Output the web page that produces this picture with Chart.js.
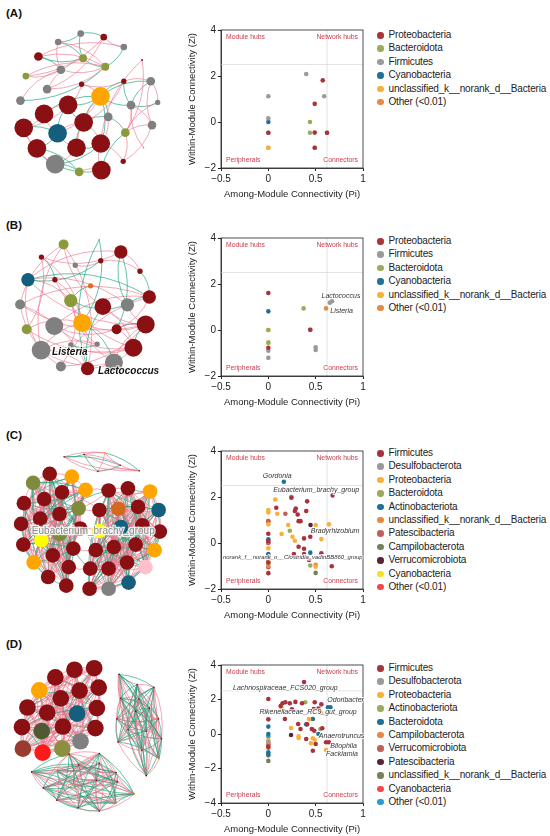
<!DOCTYPE html>
<html>
<head>
<meta charset="utf-8">
<script src="https://cdn.jsdelivr.net/npm/chart.js@4.4.1/dist/chart.umd.min.js"></script>
<style>
  body { margin: 0; background: #fff; font-family: "Liberation Sans", Arial, sans-serif; }
  #page { position: relative; width: 550px; height: 836px; overflow: hidden; }
  canvas { position: absolute; }
  .tag { position: absolute; left: 6px; font-weight: bold; font-size: 11.5px; color: #111; line-height: 14px; }
  .legend { position: absolute; left: 377px; font-size: 10px; color: #222; letter-spacing: -0.17px; }
  .legend div { height: 13.4px; line-height: 13.4px; white-space: nowrap; }
  .legend span { display: inline-block; width: 6.5px; height: 6.5px; border-radius: 50%; margin-right: 5px; vertical-align: -0.5px; }
</style>
</head>
<body>
<div id="page"></div>
<script>
// ---------- scatter data (Pi, Zi) per taxon ----------
const taxaA = ['Proteobacteria', 'Bacteroidota', 'Firmicutes', 'Cyanobacteria', 'unclassified_k__norank_d__Bacteria', 'Other (<0.01)'];
const colorsA = ['#a8323e', '#9eaa5a', '#9a9a9a', '#1f7295', '#f7b03c', '#e48a45'];
const ptsA = [
  [[0.575, 1.81], [0.49, 0.79], [0.49, -0.46], [0, -0.47], [0.62, -0.47], [0.49, -1.12]],
  [[0.44, 0], [0.44, -0.47], [0.49, -1.12]],
  [[0.40, 2.09], [0, 1.12], [0.59, 1.12], [0, 0.16], [0, -0.47], [0.62, -0.47]],
  [[0, 0]],
  [[0, -1.12]],
  [[0, -1.12]]
];

const taxaB = ['Proteobacteria', 'Firmicutes', 'Bacteroidota', 'Cyanobacteria', 'unclassified_k__norank_d__Bacteria', 'Other (<0.01)'];
const colorsB = ['#a8323e', '#9a9a9a', '#9eaa5a', '#1f7295', '#f7b03c', '#e48a45'];
const ptsB = [
  [[0, 1.61], [0, -0.77], [0.443, 0.01]],
  [[0, -0.9], [0, -1.21], [0.5, -0.75], [0.5, -0.87], [0.65, 1.19], [0.673, 1.25], [0.443, 0.01]],
  [[0.373, 0.94], [0, 0], [0, -0.55]],
  [[0, 0.81]],
  [[0, 0], [0, -0.55]],
  [[0.61, 0.94]]
];
const labelsB = [['Lactococcus', 0.767, 1.48], ['Listeria', 0.774, 0.81]];

const taxaC = ['Firmicutes', 'Desulfobacterota', 'Proteobacteria', 'Bacteroidota', 'Actinobacteriota', 'unclassified_k__norank_d__Bacteria',
  'Patescibacteria', 'Campilobacterota', 'Verrucomicrobiota', 'Cyanobacteria', 'Other (<0.01)'];
const colorsC = ['#a8323e', '#9a9a9a', '#f7b03c', '#9eaa5a', '#1f7295', '#e48a45', '#c0605c', '#75805e', '#5a2438', '#f8e020', '#f04a4a'];
const ptsC = [
  [[0.244, 1.97], [0.68, 2.07], [0.084, 1.53], [0.41, 1.81], [0.29, 1.50], [0.28, 1.39], [0.40, 1.39], [0.31, 1.24], [0.32, 0.95],
   [0.34, 0.95], [0.377, 0.20], [0.443, 0.27], [0.32, -0.16], [0.377, -0.25], [0.27, -0.48], [0.377, -0.48], [0.56, -0.45],
   [0.67, -1.01], [0.43, -0.74], [0, 0.40], [0, 0.09], [0, -0.65], [0, -1.31], [0, -0.85]],
  [[0, -0.7]],
  [[0.073, 1.89], [0.094, 1.27], [0.5, 0.78], [0.64, 0.81], [0.21, 0.78], [0.14, 0.39], [0.255, 0.27], [0.28, 0.10], [0.56, 0.17],
   [0.5, -1.03], [0, 1.43], [0, 1.33], [0, 0.81], [0, -0.23], [0, -0.75]],
  [[0.244, 2.01], [0.227, 0.53], [0.443, -0.98], [0, -0.9]],
  [[0.164, 2.66], [0.443, -0.42], [0, 0.16], [0, -0.48], [0, -0.6]],
  [[0.5, -0.95], [0, -1.0]],
  [[0.18, 1.27], [0, 0.95], [0, 0.01]],
  [[0.5, -1.3]],
  [[0.446, 0.78], [0, -0.55]],
  [[0, -0.8]],
  [[0, 0.95], [0, 0.0], [0, -1.05]]
];
const labelsC = [['Gordonia', 0.094, 2.92], ['Eubacterium_brachy_group', 0.506, 2.30], ['Bradyrhizobium', 0.705, 0.53],
  ['norank_f__norank_o__Clostridia_vadinBB860_group', 0.258, -0.61]];

const taxaD = ['Firmicutes', 'Desulfobacterota', 'Proteobacteria', 'Actinobacteriota', 'Bacteroidota', 'Campilobacterota',
  'Verrucomicrobiota', 'Patescibacteria', 'unclassified_k__norank_d__Bacteria', 'Cyanobacteria', 'Other (<0.01)'];
const colorsD = ['#a8323e', '#9a9a9a', '#f7b03c', '#9eaa5a', '#1f7295', '#e48a45', '#c0605c', '#5a2438', '#75805e', '#f04a4a', '#2a9ad0'];
const ptsD = [
  [[0.377, 3.01], [0, 2.03], [0, 0.85], [0.13, 1.62], [0.15, 1.78], [0.18, 1.84], [0.227, 1.78], [0.286, 1.86], [0.25, 1.43],
   [0.356, 1.78], [0.49, 1.84], [0.48, 1.45], [0.53, 1.47], [0.56, 1.72], [0.175, 0.87], [0.315, 0.58], [0.41, 0.56], [0.34, 0.29],
   [0.46, 0.29], [0.485, 0.19], [0.57, 0.33], [0.40, -0.29], [0.5, -0.58], [0.61, -0.48], [0.64, -0.48], [0.47, -0.97], [0, -0.73]],
  [[0, -0.45]],
  [[0.144, 1.47], [0.56, 1.2], [0.43, 0.87], [0.24, 0.35], [0.32, -0.14], [0.32, -0.23], [0.47, -0.25], [0.49, -0.33], [0.45, -0.54],
   [0.61, -0.93], [0, -0.35]],
  [[0.39, 1.84], [0.55, 0.29]],
  [[0.63, 1.55], [0.656, 1.55], [0.47, 0.87], [0.40, 0.56], [0.53, 0], [0, 0.43], [0, -1.06], [0, -1.2], [0, 0]],
  [[0, -1.25], [0, -0.5]],
  [[0, -0.6]],
  [[0.24, -0.06]],
  [[0, -1.56]],
  [[0, -0.8]],
  [[0, -0.15]]
];
const labelsD = [['Lachnospiraceae_FCS020_group', 0.18, 2.69], ['Odoribacter', 0.816, 1.95], ['Rikenellaceae_RC9_gut_group', 0.42, 1.26],
  ['Anaerotruncus', 0.774, -0.14], ['Bilophila', 0.795, -0.68], ['Facklamia', 0.778, -1.16]];

// ---------- network data: [x, y, size, taxon] in layout units, edges [a, b, positive?] ----------
const netColorsA = ['#8b1014', '#8c9a3c', '#808080', '#135f7d', '#ffa500', '#e07020'];
const nodesA = [
  [238, 80, 10, 2], [315, 92, 10, 0], [163, 108, 10, 2], [382, 125, 10, 2], [97, 156, 13, 0], [246, 162, 12, 1], [320, 190, 12, 1],
  [172, 200, 13, 2], [55, 221, 10, 1], [126, 264, 13, 2], [37, 302, 13, 2], [443, 168, 3, 0], [241, 248, 8, 0], [382, 238, 8, 0],
  [472, 238, 13, 2], [304, 288, 28, 4], [495, 308, 8, 2], [406, 317, 13, 2], [330, 356, 13, 2], [476, 383, 13, 2], [387, 408, 13, 1],
  [448, 458, 2, 2], [196, 316, 28, 0], [116, 346, 28, 0], [48, 392, 28, 0], [161, 410, 28, 3], [248, 374, 28, 0], [92, 460, 28, 0],
  [224, 458, 28, 0], [305, 444, 28, 0], [153, 512, 28, 2], [380, 503, 8, 0], [233, 538, 13, 1], [307, 532, 28, 0]
];
const edgesA = [
  [0, 1, 1], [0, 5, 1], [2, 5, 1], [4, 5, 1], [4, 6, 0], [5, 6, 1], [3, 6, 1], [1, 3, 0], [0, 2, 1], [2, 7, 0], [4, 7, 1], [7, 6, 0],
  [8, 6, 0], [8, 7, 0], [9, 5, 0], [10, 6, 1], [10, 7, 0], [9, 1, 0], [4, 3, 0], [8, 1, 0], [2, 6, 0], [9, 6, 0],
  [15, 22, 1], [15, 23, 1], [15, 25, 0], [15, 26, 1], [15, 29, 1], [15, 12, 0], [15, 13, 1], [15, 17, 1], [15, 14, 1], [15, 28, 0],
  [15, 18, 1], [22, 23, 0], [22, 24, 0], [22, 25, 1], [23, 24, 0], [23, 25, 0], [24, 25, 1], [24, 27, 0], [25, 27, 1], [25, 28, 0],
  [25, 26, 0], [26, 28, 1], [26, 29, 0], [27, 30, 1], [28, 30, 0], [28, 29, 1], [30, 32, 1], [30, 33, 1], [32, 33, 0], [29, 33, 0],
  [29, 31, 0], [31, 19, 0], [20, 19, 0], [20, 17, 0], [18, 20, 1], [14, 17, 1], [16, 17, 1], [14, 19, 0], [11, 20, 0], [11, 29, 0],
  [13, 14, 0], [12, 13, 0], [18, 29, 0], [20, 33, 1], [17, 19, 0], [16, 20, 0], [21, 17, 0], [30, 29, 1], [27, 32, 1], [24, 30, 0],
  [13, 26, 0], [22, 26, 1], [12, 22, 0], [13, 17, 1], [14, 16, 0], [18, 26, 1], [20, 31, 0]
];

const netColorsB = ['#8b1014', '#808080', '#8c9a3c', '#135f7d', '#ffa500', '#e07020'];
const nodesB = [
  [181, 116, 15, 2], [107, 158, 8, 0], [220, 185, 8, 1], [305, 170, 8, 0], [372, 141, 20, 0], [436, 205, 8, 0], [62, 233, 20, 3],
  [152, 233, 8, 0], [271, 253, 8, 5], [205, 302, 20, 2], [467, 290, 20, 0], [312, 322, 25, 0], [394, 316, 20, 1], [36, 315, 15, 1],
  [243, 376, 27, 4], [150, 386, 27, 1], [455, 381, 27, 0], [358, 397, 15, 0], [58, 397, 15, 2], [205, 449, 8, 1], [293, 446, 8, 1],
  [106, 466, 28, 1], [414, 458, 27, 0], [349, 507, 27, 1], [172, 520, 15, 1], [261, 527, 20, 0], [300, 100, 2, 1]
];
const edgesB = [
  [6, 4, 0], [6, 16, 0], [6, 12, 0], [6, 21, 0], [6, 9, 0], [1, 4, 0], [1, 14, 0], [0, 11, 0], [0, 25, 0], [0, 21, 0], [7, 14, 0],
  [7, 22, 0], [13, 10, 0], [13, 16, 0], [13, 25, 0], [15, 22, 0], [15, 10, 0], [15, 17, 0], [18, 14, 0], [18, 22, 0], [21, 25, 0],
  [21, 23, 0], [21, 14, 0], [24, 16, 0], [24, 10, 0], [9, 23, 0], [9, 19, 0], [19, 22, 0], [20, 14, 0], [20, 21, 0], [11, 22, 0],
  [11, 16, 0], [3, 5, 0], [2, 3, 0], [4, 5, 0], [14, 16, 0], [17, 22, 0], [25, 22, 0], [23, 16, 0], [12, 16, 0], [10, 17, 0],
  [0, 13, 0], [1, 18, 0], [13, 24, 0],
  [6, 10, 1], [6, 3, 1], [26, 14, 1], [4, 12, 1], [4, 17, 1], [8, 9, 1], [14, 23, 1], [11, 25, 1], [12, 10, 1], [16, 22, 1],
  [5, 10, 1], [9, 12, 1], [1, 7, 1], [19, 20, 1], [17, 16, 1], [26, 25, 1]
];
const netLabelsB = [['Listeria', 202, 474], ['Lactococcus', 398, 537]];

const netColorsC = ['#8b1014', '#808080', '#ffa500', '#7f8a3c', '#135f7d', '#d2691e', '#ffc0cb', '#5a6a3a', '#4a1020', '#ffff00', '#ff3030'];
const nodesC = [
  [138, 183, 22, 0], [210, 192, 22, 2], [84, 212, 22, 3], [178, 243, 22, 0], [255, 235, 22, 2], [54, 278, 22, 0], [120, 265, 22, 0],
  [232, 295, 22, 3], [107, 328, 22, 0], [170, 313, 22, 0], [45, 345, 22, 0], [170, 378, 22, 3], [237, 360, 22, 0], [111, 397, 22, 9],
  [52, 412, 22, 0], [148, 447, 22, 0], [215, 425, 22, 0], [86, 470, 22, 2], [200, 485, 22, 0], [133, 517, 22, 0], [192, 545, 22, 0],
  [330, 237, 22, 0], [393, 230, 22, 0], [465, 240, 22, 2], [300, 300, 22, 0], [362, 296, 22, 5], [426, 290, 22, 0], [493, 300, 22, 4],
  [370, 355, 22, 4], [300, 368, 22, 9], [440, 350, 22, 0], [497, 370, 22, 0], [288, 430, 22, 0], [347, 420, 22, 0], [418, 412, 22, 0],
  [480, 430, 22, 2], [330, 490, 22, 0], [390, 470, 22, 0], [450, 485, 22, 6], [270, 490, 22, 0], [330, 555, 22, 1], [395, 535, 22, 4],
  [268, 555, 22, 0],
  [185, 128, 2.5, 0], [250, 120, 2.5, 0], [318, 115, 2.5, 2], [295, 175, 2.5, 0], [368, 155, 2.5, 0], [430, 173, 2.5, 0]
];
const modulesC = [[0, 20], [21, 42], [43, 48]];
const crossC = [[3, 24, 0], [7, 24, 0], [12, 29, 0], [16, 32, 0], [9, 21, 1], [18, 39, 0], [12, 32, 0], [7, 21, 0], [4, 21, 0], [16, 39, 1]];
const netLabelsC = [['Eubacterium_brachy_group', 280, 368]];

const netColorsD = ['#8b1014', '#808080', '#ffa500', '#8a9040', '#135f7d', '#e07020', '#9a3b2f', '#4a1020', '#4f5a33', '#ff1a1a', '#2a9ad0'];
const nodesD = [
  [218, 135, 25, 0], [283, 130, 25, 0], [155, 160, 25, 0], [102, 202, 25, 2], [235, 203, 25, 0], [298, 193, 25, 0], [173, 228, 25, 0],
  [63, 258, 25, 0], [128, 275, 25, 0], [227, 278, 25, 4], [292, 260, 25, 0], [45, 322, 25, 0], [110, 335, 25, 8], [180, 320, 25, 0],
  [287, 325, 25, 0], [238, 368, 25, 1], [48, 392, 25, 6], [113, 405, 25, 9], [178, 392, 25, 3],
  [365, 150, 2.5, 7], [425, 183, 2.5, 0], [480, 192, 2.5, 0], [370, 228, 2.5, 0], [430, 230, 2.5, 0], [465, 260, 2.5, 0],
  [358, 295, 2.5, 0], [420, 270, 2.5, 0], [495, 295, 2.5, 0], [395, 330, 2.5, 0], [455, 335, 2.5, 0], [505, 360, 2.5, 0],
  [362, 370, 2.5, 0], [440, 398, 2.5, 0], [497, 425, 2.5, 2], [455, 480, 2.5, 7],
  [77, 468, 2.5, 0], [160, 465, 2.5, 2], [232, 445, 2.5, 0], [300, 440, 2.5, 0], [355, 470, 2.5, 0], [115, 520, 2.5, 0],
  [215, 510, 2.5, 2], [290, 495, 2.5, 0], [360, 500, 2.5, 0], [415, 540, 2.5, 2], [160, 560, 2.5, 0], [230, 585, 2.5, 0],
  [300, 595, 2.5, 0], [355, 570, 2.5, 2], [200, 410, 2.5, 0], [300, 408, 2.5, 0]
];
const modulesD = [[0, 18], [19, 34], [35, 50]];

const ZI_CUT = 2.5, PI_CUT = 0.62;
const PINK = 'rgba(236,118,140,0.85)', GREEN = 'rgba(18,160,118,0.85)';
const FONT = '"Liberation Sans", Arial, sans-serif';

// all pairs inside each module (dense module structure of C and D)
function moduleEdges(modules, greenRule) {
  const out = [];
  modules.forEach(([s, e], m) => {
    for (let a = s; a <= e; a++)
      for (let b = a + 1; b <= e; b++) out.push([a, b, greenRule(a, b, m) ? 1 : 0]);
  });
  return out;
}
const edgesC = moduleEdges(modulesC, (a, b) => (a + b) % 3 === 0).concat(crossC);
const edgesD = moduleEdges(modulesD, (a, b, m) => m === 0 ? (a + b) % 7 === 0 : (a + b) % 2 === 0);

// ---------- layout ----------
const netTop = [0, 200, 410, 620];
const netH = [200, 200, 200, 210];
const plotTop = [30, 238, 451, 665];
const tagY = [6, 218, 428, 637];
const legTop = [28, 234, 446, 661];
const page = document.getElementById('page');

function addCanvas(left, top, w, h) {
  const c = document.createElement('canvas');
  c.width = w; c.height = h;
  c.style.left = left + 'px'; c.style.top = top + 'px';
  c.style.width = w + 'px'; c.style.height = h + 'px';
  page.appendChild(c);
  return c;
}

function edgePlugin(nodes, edges, bend) {
  return {
    id: 'edges',
    beforeDatasetsDraw(chart) {
      const { ctx, scales: { x, y } } = chart;
      ctx.save();
      ctx.lineWidth = 0.75;
      edges.forEach(([a, b, g], k) => {
        const x1 = x.getPixelForValue(nodes[a][0]), y1 = y.getPixelForValue(nodes[a][1]);
        const x2 = x.getPixelForValue(nodes[b][0]), y2 = y.getPixelForValue(nodes[b][1]);
        const s = (k % 2 ? 1 : -1) * bend;
        ctx.strokeStyle = g ? GREEN : PINK;
        ctx.beginPath();
        ctx.moveTo(x1, y1);
        ctx.quadraticCurveTo((x1 + x2) / 2 - (y2 - y1) * s, (y1 + y2) / 2 + (x2 - x1) * s, x2, y2);
        ctx.stroke();
      });
      ctx.restore();
    }
  };
}

function netLabelPlugin(labels, style) {
  return {
    id: 'netLabels',
    afterDatasetsDraw(chart) {
      const { ctx, scales: { x, y } } = chart;
      ctx.save();
      ctx.font = style.font;
      ctx.textAlign = 'center';
      ctx.textBaseline = 'middle';
      labels.forEach(([t, lx, ly]) => {
        const px = x.getPixelForValue(lx), py = y.getPixelForValue(ly);
        if (style.halo) { ctx.strokeStyle = style.halo; ctx.lineWidth = 2.5; ctx.strokeText(t, px, py); }
        ctx.fillStyle = style.color;
        ctx.fillText(t, px, py);
      });
      ctx.restore();
    }
  };
}

function buildNet(i, nodes, edges, colors, bend, extra) {
  const h = netH[i];
  const cv = addCanvas(0, netTop[i], 185, h);
  new Chart(cv, {
    type: 'bubble',
    data: {
      datasets: [{
        data: nodes.map(n => ({ x: n[0], y: n[1], r: n[2] / 3 })),
        backgroundColor: nodes.map(n => colors[n[3]]),
        borderWidth: 0
      }]
    },
    options: {
      responsive: false, animation: false, events: [],
      layout: { padding: 0 },
      scales: {
        x: { display: false, min: 0, max: 555 },
        y: { display: false, min: 0, max: h * 3, reverse: true }
      },
      plugins: { legend: { display: false }, tooltip: { enabled: false } }
    },
    plugins: [edgePlugin(nodes, edges, bend)].concat(extra || [])
  });
}

const minus = v => String(v).replace('-', '\u2212');

const frameAndQuadrants = {
  id: 'quad',
  beforeDatasetsDraw(chart) {
    const { ctx, chartArea: a, scales: { x, y } } = chart;
    ctx.save();
    ctx.strokeStyle = '#dcdcdc';
    ctx.lineWidth = 0.8;
    ctx.beginPath();
    ctx.moveTo(a.left, y.getPixelForValue(ZI_CUT)); ctx.lineTo(a.right, y.getPixelForValue(ZI_CUT));
    ctx.moveTo(x.getPixelForValue(PI_CUT), a.top); ctx.lineTo(x.getPixelForValue(PI_CUT), a.bottom);
    ctx.stroke();
    ctx.font = '6.8px ' + FONT;
    ctx.fillStyle = '#c8404c';
    ctx.textBaseline = 'middle';
    ctx.textAlign = 'left';
    ctx.fillText('Module hubs', a.left + 5, a.top + 7);
    ctx.fillText('Peripherals', a.left + 5, a.bottom - 8);
    ctx.textAlign = 'right';
    ctx.fillText('Network hubs', a.right - 5, a.top + 7);
    ctx.fillText('Connectors', a.right - 5, a.bottom - 8);
    ctx.strokeStyle = '#222';
    ctx.lineWidth = 0.8;
    ctx.strokeRect(a.left, a.top, a.width, a.height);
    ctx.restore();
  }
};

function pointLabelPlugin(labels) {
  return {
    id: 'pointLabels',
    afterDatasetsDraw(chart) {
      const { ctx, chartArea: a, scales: { x, y } } = chart;
      ctx.save();
      ctx.textAlign = 'center';
      ctx.textBaseline = 'middle';
      labels.forEach(([t, lx, ly]) => {
        // long taxon names are shrunk so they stay inside the frame
        ctx.font = 'italic 7px ' + FONT;
        const w = ctx.measureText(t).width;
        if (w > a.width - 2) ctx.font = 'italic ' + (7 * (a.width - 2) / w).toFixed(2) + 'px ' + FONT;
        const px = x.getPixelForValue(lx), py = y.getPixelForValue(ly);
        ctx.strokeStyle = 'rgba(255,255,255,0.8)'; ctx.lineWidth = 2; ctx.strokeText(t, px, py);
        ctx.fillStyle = '#333'; ctx.fillText(t, px, py);
      });
      ctx.restore();
    }
  };
}

function buildScatter(i, taxa, colors, pts, yMin, labels) {
  const cv = addCanvas(183, plotTop[i] - 8, 188, 8 + 138 + 35);
  const axisStyle = {
    grid: { display: true, drawOnChartArea: false, drawTicks: true, tickLength: 3, color: '#222' },
    border: { display: true, color: '#222', width: 0.8 },
    ticks: { color: '#222', font: { family: FONT, size: 10 }, padding: 2, callback: minus }
  };
  new Chart(cv, {
    type: 'scatter',
    data: {
      datasets: taxa.map((t, k) => ({
        label: t,
        data: pts[k].map(p => ({ x: p[0], y: p[1] })),
        backgroundColor: colors[k],
        pointRadius: 2.3,
        borderWidth: 0
      }))
    },
    options: {
      responsive: false, animation: false, events: [],
      layout: { padding: { top: 8, right: 8, left: 0, bottom: 0 } },
      scales: {
        x: Object.assign({}, axisStyle, {
          min: -0.5, max: 1,
          ticks: Object.assign({}, axisStyle.ticks, { stepSize: 0.5 }),
          title: { display: true, text: 'Among-Module Connectivity (Pi)', color: '#222', font: { family: FONT, size: 9.5 }, padding: { top: 2, bottom: 3 } },
          afterFit: s => { s.height = 35; }
        }),
        y: Object.assign({}, axisStyle, {
          min: yMin, max: 4,
          ticks: Object.assign({}, axisStyle.ticks, { stepSize: 2 }),
          title: { display: true, text: 'Within-Module Connectivity (Zi)', color: '#222', font: { family: FONT, size: 9.5 }, padding: { top: 4, bottom: 2 } },
          afterFit: s => { s.width = 38; }
        })
      },
      plugins: { legend: { display: false }, tooltip: { enabled: false } }
    },
    plugins: [frameAndQuadrants, pointLabelPlugin(labels)]
  });

  const leg = document.createElement('div');
  leg.className = 'legend';
  leg.style.top = legTop[i] + 'px';
  taxa.forEach((t, k) => {
    const row = document.createElement('div');
    const dot = document.createElement('span');
    dot.style.background = colors[k];
    row.appendChild(dot);
    row.appendChild(document.createTextNode(t));
    leg.appendChild(row);
  });
  page.appendChild(leg);
}

['(A)', '(B)', '(C)', '(D)'].forEach((t, i) => {
  const d = document.createElement('div');
  d.className = 'tag';
  d.style.top = tagY[i] + 'px';
  d.textContent = t;
  page.appendChild(d);
});

buildNet(0, nodesA, edgesA, netColorsA, 0.2);
buildNet(1, nodesB, edgesB, netColorsB, 0.22,
  [netLabelPlugin(netLabelsB, { font: 'italic bold 10px ' + FONT, color: '#111', halo: 'rgba(255,255,255,0.7)' })]);
buildNet(2, nodesC, edgesC, netColorsC, 0.12,
  [netLabelPlugin(netLabelsC, { font: '10px ' + FONT, color: '#8a8a8a', halo: 'rgba(255,255,255,0.85)' })]);
buildNet(3, nodesD, edgesD, netColorsD, 0.14);

buildScatter(0, taxaA, colorsA, ptsA, -2, []);
buildScatter(1, taxaB, colorsB, ptsB, -2, labelsB);
buildScatter(2, taxaC, colorsC, ptsC, -2, labelsC);
buildScatter(3, taxaD, colorsD, ptsD, -4, labelsD);
</script>
</body>
</html>
